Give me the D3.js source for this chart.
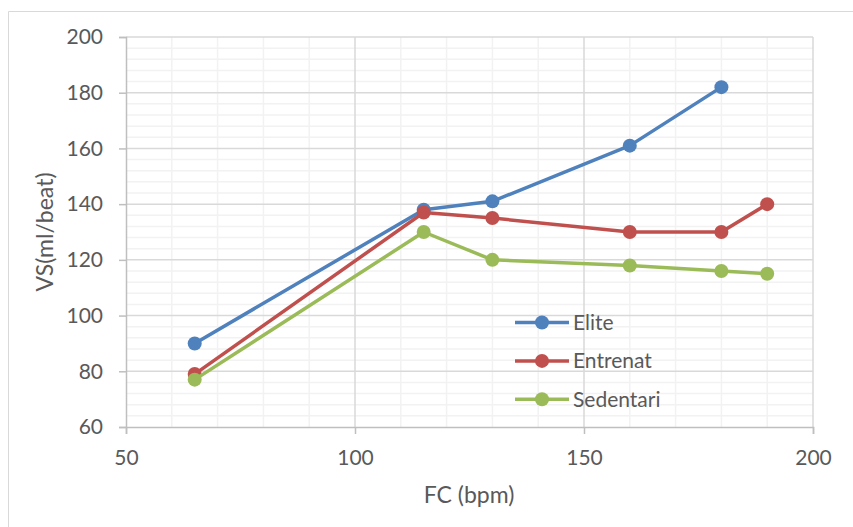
<!DOCTYPE html>
<html>
<head>
<meta charset="utf-8">
<script src="https://cdn.jsdelivr.net/npm/d3@7"></script>
<style>
  body { margin: 0; background: #fff; }
  svg text { font-family: Lato, "Open Sans", sans-serif; fill: #595959; }
</style>
</head>
<body>
<div id="chart"></div>
<script>
// Dades
const fcElite = [65, 115, 130, 160, 180];
const vsElite = [90, 138, 141, 161, 182];
const fcEntrenat = [65, 115, 130, 160, 180, 190];
const vsEntrenat = [79, 137, 135, 130, 130, 140];
const fcSedentari = [65, 115, 130, 160, 180, 190];
const vsSedentari = [77, 130, 120, 118, 116, 115];
const seriesNames = ["Elite", "Entrenat", "Sedentari"];
const colors = ["#4f81bd", "#c0504d", "#9bbb59"];
const xTicks = [50, 100, 150, 200];
const yTicks = [60, 80, 100, 120, 140, 160, 180, 200];

const width = 853, height = 527;
const margin = { left: 126, right: 40, top: 37, bottom: 100 };

const svg = d3.select("#chart").append("svg")
  .attr("width", width)
  .attr("height", height);

// marc del gràfic
svg.append("path")
  .attr("d", `M8.5,${height} V11.5 H${width}`)
  .attr("fill", "none")
  .attr("stroke", "#d9d9d9");

const x = d3.scaleLinear().domain([50, 200]).range([margin.left, width - margin.right]);
const y = d3.scaleLinear().domain([60, 200]).range([height - margin.bottom, margin.top]);

// graella menor
svg.append("g").selectAll("line")
  .data(d3.range(60, 201, 10).filter(v => v % 50 !== 0))
  .enter().append("line")
  .attr("x1", d => x(d)).attr("x2", d => x(d))
  .attr("y1", y(60)).attr("y2", y(200))
  .attr("stroke", "#f2f2f2").attr("stroke-width", 1.5);

svg.append("g").selectAll("line")
  .data(d3.range(64, 200, 4).filter(v => v % 20 !== 0))
  .enter().append("line")
  .attr("x1", x(50)).attr("x2", x(200))
  .attr("y1", d => y(d)).attr("y2", d => y(d))
  .attr("stroke", "#f2f2f2").attr("stroke-width", 1.5);

// graella major
svg.append("g").selectAll("line")
  .data(xTicks.slice(1))
  .enter().append("line")
  .attr("x1", d => x(d)).attr("x2", d => x(d))
  .attr("y1", y(60)).attr("y2", y(200))
  .attr("stroke", "#d9d9d9").attr("stroke-width", 1.5);

svg.append("g").selectAll("line")
  .data(yTicks.slice(1))
  .enter().append("line")
  .attr("x1", x(50)).attr("x2", x(200))
  .attr("y1", d => y(d)).attr("y2", d => y(d))
  .attr("stroke", "#d9d9d9").attr("stroke-width", 1.5);

// eixos
const xAxis = svg.append("g")
  .attr("transform", `translate(0,${y(60)})`)
  .call(d3.axisBottom(x).tickValues(xTicks).tickSize(7).tickPadding(16));
const yAxis = svg.append("g")
  .attr("transform", `translate(${x(50)},0)`)
  .call(d3.axisLeft(y).tickValues(yTicks).tickSize(7).tickPadding(16));

[xAxis, yAxis].forEach(a => {
  a.select(".domain").attr("stroke", "#bfbfbf").attr("stroke-width", 1.5);
  a.selectAll(".tick line").attr("stroke", "#bfbfbf").attr("stroke-width", 1.5);
  a.selectAll(".tick text").style("font-size", "21px").style("font-family", "Lato, sans-serif").attr("fill", "#595959");
});

svg.append("text")
  .attr("x", 469).attr("y", 503)
  .attr("text-anchor", "middle")
  .style("font-size", "23px")
  .text("FC (bpm)");

svg.append("text")
  .attr("transform", "translate(53,232) rotate(-90)")
  .attr("text-anchor", "middle")
  .style("font-size", "23px")
  .text("VS(ml/beat)");

// sèries
const series = [
  { name: seriesNames[0], xs: fcElite, ys: vsElite },
  { name: seriesNames[1], xs: fcEntrenat, ys: vsEntrenat },
  { name: seriesNames[2], xs: fcSedentari, ys: vsSedentari }
];

const line = d3.line().x(d => x(d[0])).y(d => y(d[1]));

series.forEach((s, i) => {
  const pts = s.xs.map((v, j) => [v, s.ys[j]]);
  const g = svg.append("g");
  g.append("path")
    .datum(pts)
    .attr("d", line)
    .attr("fill", "none")
    .attr("stroke", colors[i])
    .attr("stroke-width", 3.5)
    .attr("stroke-linejoin", "round");
  g.selectAll("circle")
    .data(pts)
    .enter().append("circle")
    .attr("cx", d => x(d[0]))
    .attr("cy", d => y(d[1]))
    .attr("r", 7)
    .attr("fill", colors[i]);
});

// llegenda
const legend = svg.append("g").attr("transform", "translate(515,322.5)");
seriesNames.forEach((n, i) => {
  const g = legend.append("g").attr("transform", `translate(0,${i * 38.4})`);
  g.append("line")
    .attr("x1", 0).attr("x2", 54)
    .attr("stroke", colors[i]).attr("stroke-width", 3.5);
  g.append("circle").attr("cx", 27).attr("r", 7).attr("fill", colors[i]);
  g.append("text")
    .attr("x", 58).attr("y", 7.5)
    .style("font-size", "21px")
    .text(n);
});
</script>
</body>
</html>
